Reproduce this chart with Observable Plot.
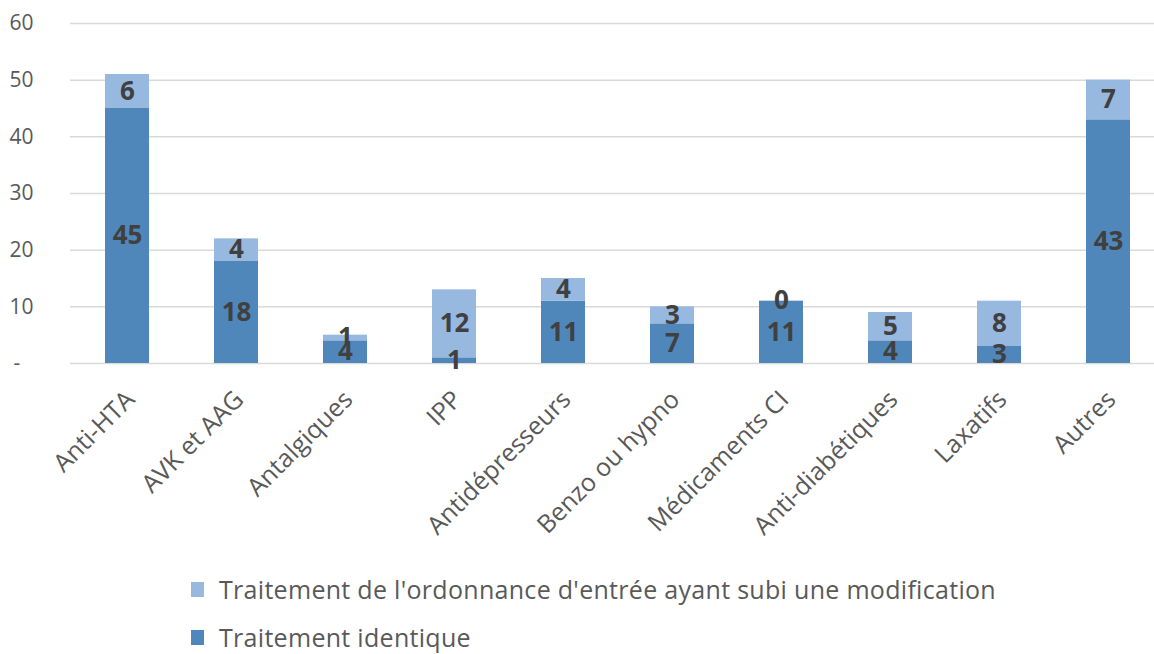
<!DOCTYPE html>
<html>
<head>
<meta charset="utf-8">
<script src="https://cdn.jsdelivr.net/npm/d3@7"></script>
<script src="https://cdn.jsdelivr.net/npm/@observablehq/plot@0.6"></script>
<style>
  html, body { margin: 0; padding: 0; background: #fff; }
  body { width: 1154px; height: 654px; overflow: hidden; font-family: "Open Sans", sans-serif; }
  #legend { position: relative; }
  .row { height: 48px; display: flex; align-items: center; padding-left: 191px; font-size: 25px; letter-spacing: 0.3px; color: #595959; }
  .sw { width: 13px; height: 15px; margin-right: 15px; flex: none; }
</style>
</head>
<body>
<div id="chart"></div>
<div id="legend"></div>
<script>
const categories = ["Anti-HTA", "AVK et AAG", "Antalgiques", "IPP", "Antidépresseurs", "Benzo ou hypno", "Médicaments CI", "Anti-diabétiques", "Laxatifs", "Autres"];
const identique = [45, 18, 4, 1, 11, 7, 11, 4, 3, 43];
const modifie = [6, 4, 1, 12, 4, 3, 0, 5, 8, 7];
const seriesNames = ["Traitement identique", "Traitement de l'ordonnance d'entrée ayant subi une modification"];
const seriesColors = ["#4F87BB", "#97B9E0"];
const yTicks = [0, 10, 20, 30, 40, 50, 60];

const data = [];
categories.forEach((c, i) => {
  data.push({cat: c, series: seriesNames[0], value: identique[i]});
  data.push({cat: c, series: seriesNames[1], value: modifie[i]});
});

const chart = Plot.plot({
  width: 1154,
  height: 565,
  marginLeft: 70,
  marginRight: 0,
  marginTop: 23,
  marginBottom: 202,
  style: {fontFamily: "'Open Sans', sans-serif", background: "#fff"},
  x: {domain: categories, range: [70, 1165], paddingInner: 0.6, paddingOuter: 0.3, axis: null},
  y: {domain: [0, 60], axis: null},
  color: {domain: seriesNames, range: seriesColors},
  marks: [
    Plot.ruleY(yTicks, {y: d => d, stroke: "#D9D9D9", strokeWidth: 1.5}),
    Plot.barY(data, Plot.stackY({x: "cat", y: "value", z: "series", fill: "series", order: seriesNames})),
    Plot.text(data, Plot.stackY({x: "cat", y: "value", z: "series", order: seriesNames, text: d => String(d.value), fill: "#404040", fontSize: 26, fontWeight: "bold"})),
    Plot.text(yTicks.filter(d => d !== 0), {y: d => d, text: d => String(d), frameAnchor: "left", dx: -37, textAnchor: "end", fill: "#595959", fontSize: 21}),
    Plot.text(yTicks.filter(d => d === 0), {y: d => d, text: () => "-", frameAnchor: "left", dx: -57, textAnchor: "start", fill: "#595959", fontSize: 21}),
    Plot.text(categories, {x: d => d, y: 0, text: d => d, rotate: -45, textAnchor: "end", lineAnchor: "middle", dx: 3, dy: 32, fill: "#595959", fontSize: 25})
  ]
});
document.getElementById("chart").appendChild(chart);

const legend = document.getElementById("legend");
[1, 0].forEach(i => {
  const row = document.createElement("div");
  row.className = "row";
  const sw = document.createElement("span");
  sw.className = "sw";
  sw.style.background = seriesColors[i];
  const t = document.createElement("span");
  t.textContent = seriesNames[i];
  row.appendChild(sw);
  row.appendChild(t);
  legend.appendChild(row);
});
</script>
</body>
</html>
